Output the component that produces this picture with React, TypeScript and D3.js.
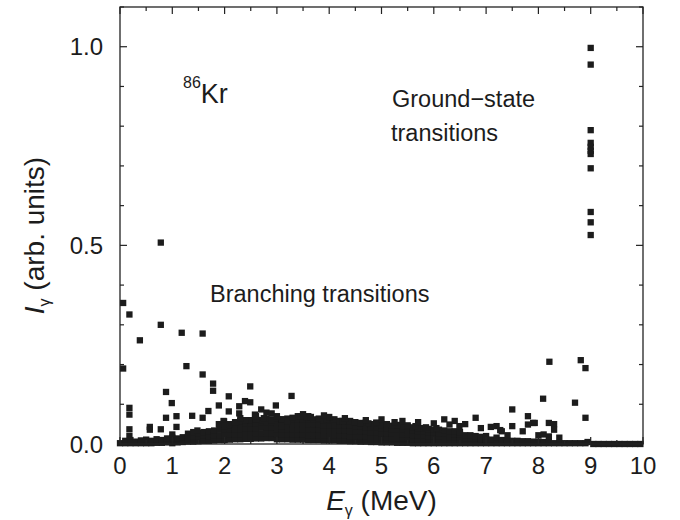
import React, { useRef, useEffect } from 'react';
import { select, scaleLinear, range } from 'd3';

const width = 680;
const height = 520;
const margin = { left: 120, right: 37, top: 7, bottom: 76 };
const markerSize = 6.3;
const ink = '#1c1c1c';
const font = '"Liberation Sans", Arial, Helvetica, sans-serif';

const xTickLabels = ['0', '1', '2', '3', '4', '5', '6', '7', '8', '9', '10'];
const yTickLabels = ['0.0', '0.5', '1.0'];

// ground-state transitions, all at E = 9 MeV
const groundE = [9.0, 9.0, 9.0, 9.0, 9.0, 9.0, 9.0, 9.0, 9.0, 9.0, 9.0];
const groundI = [0.997, 0.955, 0.79, 0.758, 0.748, 0.738, 0.73, 0.694, 0.584, 0.558, 0.526];

// flat row above 9 MeV
const tailE = [9.05, 9.15, 9.25, 9.35, 9.45, 9.55, 9.65, 9.75, 9.85, 9.95];
const tailI = [0, 0, 0, 0, 0, 0, 0, 0, 0, 0];

// dense band of weak branching transitions, one column per 0.1 MeV
const bandE = [
  0.0, 0.1, 0.2, 0.3, 0.4, 0.5, 0.6, 0.7, 0.8, 0.9,
  1.0, 1.1, 1.2, 1.3, 1.4, 1.5, 1.6, 1.7, 1.8, 1.9,
  2.0, 2.1, 2.2, 2.3, 2.4, 2.5, 2.6, 2.7, 2.8, 2.9,
  3.0, 3.1, 3.2, 3.3, 3.4, 3.5, 3.6, 3.7, 3.8, 3.9,
  4.0, 4.1, 4.2, 4.3, 4.4, 4.5, 4.6, 4.7, 4.8, 4.9,
  5.0, 5.1, 5.2, 5.3, 5.4, 5.5, 5.6, 5.7, 5.8, 5.9,
  6.0, 6.1, 6.2, 6.3, 6.4, 6.5, 6.6, 6.7, 6.8, 6.9,
  7.0, 7.1, 7.2, 7.3, 7.4, 7.5, 7.6, 7.7, 7.8, 7.9,
  8.0, 8.1, 8.2, 8.3, 8.4, 8.5, 8.6, 8.7, 8.8, 8.9,
];
const bandI = [
  [0.002], [0.002, 0.008], [0.002, 0.01], [0.002, 0.006], [0.002, 0.009],
  [0.002, 0.011], [0.002, 0.008], [0.003, 0.012], [0.003, 0.01], [0.004, 0.014],
  [0.002, 0.016, 0.024], [0.004, 0.014], [0.005, 0.017], [0.006, 0.018, 0.026], [0.006, 0.02, 0.03],
  [0.007, 0.019, 0.028], [0.008, 0.021, 0.03], [0.008, 0.02, 0.032], [0.009, 0.022, 0.034], [0.01, 0.022, 0.036],
  [0.01, 0.023, 0.036, 0.046], [0.011, 0.024, 0.037, 0.048], [0.012, 0.025, 0.038, 0.05], [0.012, 0.025, 0.038, 0.05, 0.058], [0.013, 0.026, 0.04, 0.052],
  [0.013, 0.026, 0.04, 0.053, 0.06], [0.014, 0.027, 0.04, 0.053, 0.062], [0.014, 0.027, 0.041, 0.054, 0.06], [0.015, 0.028, 0.042, 0.055, 0.064], [0.015, 0.028, 0.042, 0.055, 0.062],
  [0.012, 0.025, 0.038, 0.051, 0.064], [0.012, 0.025, 0.038, 0.051, 0.062], [0.012, 0.025, 0.038, 0.051, 0.064], [0.011, 0.024, 0.037, 0.05, 0.063], [0.011, 0.024, 0.037, 0.05, 0.062, 0.07],
  [0.011, 0.024, 0.037, 0.05, 0.063], [0.01, 0.023, 0.036, 0.049, 0.062, 0.07], [0.01, 0.023, 0.036, 0.049, 0.062], [0.01, 0.023, 0.036, 0.049, 0.062], [0.009, 0.022, 0.035, 0.048, 0.06],
  [0.009, 0.022, 0.035, 0.048, 0.06], [0.009, 0.022, 0.035, 0.048, 0.062], [0.008, 0.021, 0.034, 0.047, 0.058], [0.008, 0.021, 0.034, 0.046, 0.056], [0.007, 0.02, 0.033, 0.046, 0.058],
  [0.007, 0.02, 0.033, 0.045, 0.055], [0.006, 0.019, 0.032, 0.044, 0.052], [0.006, 0.019, 0.031, 0.043, 0.054], [0.005, 0.018, 0.03, 0.042, 0.05], [0.005, 0.018, 0.03, 0.042, 0.052],
  [0.004, 0.016, 0.028, 0.04, 0.048], [0.004, 0.016, 0.028, 0.04, 0.05], [0.004, 0.015, 0.027, 0.038, 0.046], [0.003, 0.014, 0.026, 0.037, 0.047], [0.003, 0.014, 0.025, 0.036, 0.044],
  [0.003, 0.013, 0.024, 0.035, 0.044], [0.002, 0.012, 0.023, 0.034, 0.042], [0.002, 0.012, 0.022, 0.033, 0.04], [0.002, 0.011, 0.021, 0.031, 0.04], [0.002, 0.011, 0.02, 0.03, 0.038],
  [0.002, 0.01, 0.02, 0.03, 0.036], [0.002, 0.01, 0.019, 0.028, 0.036], [0.002, 0.01, 0.018, 0.027, 0.034], [0.002, 0.009, 0.017, 0.026, 0.032], [0.002, 0.009, 0.017, 0.025, 0.032],
  [0.002, 0.008, 0.016, 0.024, 0.03], [0.002, 0.008, 0.015, 0.022], [0.002, 0.007, 0.014, 0.022], [0.002, 0.007, 0.013, 0.02], [0.002, 0.006, 0.012, 0.018],
  [0.002, 0.006, 0.012, 0.02], [0.002, 0.006, 0.011], [0.002, 0.005, 0.01, 0.016], [0.002, 0.005, 0.01], [0.002, 0.009],
  [0.002, 0.008], [0.002, 0.008], [0.002, 0.007], [0.002, 0.007], [0.002, 0.006],
  [0.002, 0.006], [0.002, 0.005], [0.002, 0.005], [0.002], [0.002],
  [0.002], [0.002], [0.002], [0.002], [0.002],
];

// stronger, scattered branching transitions
const scatterE = [
  0.06, 0.18, 0.38, 0.78, 0.78, 1.18, 1.58, 0.06, 1.27, 1.58,
  1.78, 1.78, 0.88, 0.99, 0.18, 0.18, 1.89, 1.69, 1.38, 1.58,
  0.88, 1.08, 0.18, 0.18, 0.57, 0.57, 0.78, 1.08, 1.48, 1.98,
  1.89, 2.49, 2.08, 3.28, 2.39, 2.49, 2.28, 2.98, 2.08, 2.7,
  2.8, 2.9, 2.58, 2.28, 1.99, 3.09, 3.57, 4.08, 4.49, 4.9,
  6.2, 6.3, 6.49, 6.8, 7.09, 7.3, 7.5, 7.8, 7.9, 7.8,
  7.5, 7.7, 7.41, 8.0, 7.27, 8.21, 8.81, 8.9, 8.09, 8.7,
  8.9, 8.2, 8.3, 8.3, 8.1, 8.2, 8.4, 7.93, 8.94,
  2.0, 2.1, 2.2, 2.4, 2.6, 2.75, 2.9, 3.1, 3.2, 3.3,
  3.45, 3.65, 3.8, 3.95, 4.25, 4.6, 4.75, 5.1, 5.3, 5.5,
  5.65, 5.85, 6.05, 5.25,
  4.3, 4.7, 5.0, 5.4, 5.7, 6.0, 6.6, 6.9, 7.2, 6.4,
  3.0, 3.5, 3.9, 2.3, 2.6, 4.0,
];
const scatterI = [
  0.355, 0.326, 0.261, 0.507, 0.3, 0.28, 0.278, 0.19, 0.196, 0.175,
  0.152, 0.134, 0.131, 0.103, 0.091, 0.074, 0.097, 0.083, 0.071, 0.066,
  0.066, 0.07, 0.037, 0.02, 0.043, 0.036, 0.037, 0.043, 0.034, 0.058,
  0.05, 0.145, 0.12, 0.121, 0.108, 0.105, 0.095, 0.097, 0.082, 0.087,
  0.079, 0.077, 0.074, 0.077, 0.057, 0.045, 0.068, 0.061, 0.055, 0.054,
  0.062, 0.049, 0.045, 0.066, 0.043, 0.032, 0.087, 0.07, 0.053, 0.049,
  0.045, 0.032, 0.022, 0.022, 0.035, 0.207, 0.211, 0.191, 0.114, 0.104,
  0.066, 0.053, 0.05, 0.036, 0.024, 0.019, 0.016, 0.053, 0.005,
  0.045, 0.05, 0.055, 0.06, 0.062, 0.065, 0.06, 0.062, 0.058, 0.066,
  0.07, 0.068, 0.064, 0.063, 0.058, 0.053, 0.052, 0.05, 0.048, 0.047,
  0.045, 0.042, 0.04, 0.055,
  0.065, 0.06, 0.062, 0.058, 0.055, 0.052, 0.05, 0.04, 0.045, 0.058,
  0.07, 0.075, 0.072, 0.065, 0.07, 0.068,
];

const Chart = () => {
  const d3svg = useRef(null);

  useEffect(() => {
    const svg = select(d3svg.current);
    svg.selectAll('*').remove();

    const x = scaleLinear().domain([0, 10]).range([margin.left, width - margin.right]);
    const y = scaleLinear().domain([0, 1.1]).range([height - margin.bottom, margin.top]);
    const [x0, x1] = x.range();
    const [y0, y1] = y.range();

    // collect all points
    const points = [];
    bandE.forEach((e, i) => bandI[i].forEach(v => points.push([e, v])));
    scatterE.forEach((e, i) => points.push([e, scatterI[i]]));
    tailE.forEach((e, i) => points.push([e, tailI[i]]));
    groundE.forEach((e, i) => points.push([e, groundI[i]]));

    svg.append('g')
      .selectAll('rect')
      .data(points)
      .join('rect')
      .attr('x', d => x(d[0]) - markerSize / 2)
      .attr('y', d => y(d[1]) - markerSize / 2)
      .attr('width', markerSize)
      .attr('height', markerSize)
      .attr('fill', ink);

    // frame
    svg.append('rect')
      .attr('x', x0).attr('y', y1)
      .attr('width', x1 - x0).attr('height', y0 - y1)
      .attr('fill', 'none')
      .attr('stroke', '#222')
      .attr('stroke-width', 1.3);

    // ticks pointing inward on all four sides
    const ticks = svg.append('g').attr('stroke', '#222').attr('stroke-width', 1.2);
    range(0, 10.01, 0.5).forEach(v => {
      const len = Math.abs(v % 1) < 1e-6 ? 7 : 4;
      ticks.append('line').attr('x1', x(v)).attr('x2', x(v)).attr('y1', y0).attr('y2', y0 - len);
      ticks.append('line').attr('x1', x(v)).attr('x2', x(v)).attr('y1', y1).attr('y2', y1 + len);
    });
    range(0, 1.101, 0.1).forEach(v => {
      const len = Math.abs((v * 10) % 5) < 1e-6 || Math.abs((v * 10) % 5 - 5) < 1e-6 ? 7 : 4;
      ticks.append('line').attr('x1', x0).attr('x2', x0 + len).attr('y1', y(v)).attr('y2', y(v));
      ticks.append('line').attr('x1', x1).attr('x2', x1 - len).attr('y1', y(v)).attr('y2', y(v));
    });

    // tick labels
    svg.append('g')
      .selectAll('text')
      .data(xTickLabels)
      .join('text')
      .attr('x', d => x(+d))
      .attr('y', y0 + 30)
      .attr('text-anchor', 'middle')
      .style('font-family', font)
      .style('font-size', '24px')
      .attr('fill', ink)
      .text(d => d);

    svg.append('g')
      .selectAll('text')
      .data(yTickLabels)
      .join('text')
      .attr('x', x0 - 17)
      .attr('y', d => y(+d))
      .attr('dy', '0.36em')
      .attr('text-anchor', 'end')
      .style('font-family', font)
      .style('font-size', '24px')
      .attr('fill', ink)
      .text(d => d);

    // axis titles
    const xTitle = svg.append('text')
      .attr('x', (x0 + x1) / 2)
      .attr('y', y0 + 66)
      .attr('text-anchor', 'middle')
      .style('font-family', font)
      .style('font-size', '28px')
      .attr('fill', ink);
    xTitle.append('tspan').style('font-style', 'italic').text('E');
    xTitle.append('tspan').attr('dy', 6).style('font-size', '16px').text('γ');
    xTitle.append('tspan').attr('dy', -6).text(' (MeV)');

    const yTitle = svg.append('text')
      .attr('transform', `translate(44, ${(y0 + y1) / 2 + 10}) rotate(-90)`)
      .attr('text-anchor', 'middle')
      .style('font-family', font)
      .style('font-size', '28px')
      .attr('fill', ink);
    yTitle.append('tspan').style('font-style', 'italic').text('I');
    yTitle.append('tspan').attr('dy', 6).style('font-size', '16px').text('γ');
    yTitle.append('tspan').attr('dy', -6).text(' (arb. units)');

    // annotations
    const kr = svg.append('text')
      .attr('x', 183)
      .attr('y', 103)
      .style('font-family', font)
      .attr('fill', ink);
    kr.append('tspan').attr('dy', -15).style('font-size', '16px').text('86');
    kr.append('tspan').attr('dy', 15).style('font-size', '27px').text('Kr');

    const notes = [
      { text: 'Ground\u2212state', x: 392, y: 107 },
      { text: 'transitions', x: 391, y: 141 },
      { text: 'Branching transitions', x: 210, y: 302 },
    ];
    svg.append('g')
      .selectAll('text')
      .data(notes)
      .join('text')
      .attr('x', d => d.x)
      .attr('y', d => d.y)
      .style('font-family', font)
      .style('font-size', '23.5px')
      .attr('fill', ink)
      .text(d => d.text);
  }, []);

  return (
    <svg
      width={width}
      height={height}
      style={{ display: 'block', background: '#fff' }}
      ref={d3svg}
    ></svg>
  );
};

export default function App() {
  return (
    <>
      <style>{'body { margin: 0; }'}</style>
      <Chart />
    </>
  );
}
